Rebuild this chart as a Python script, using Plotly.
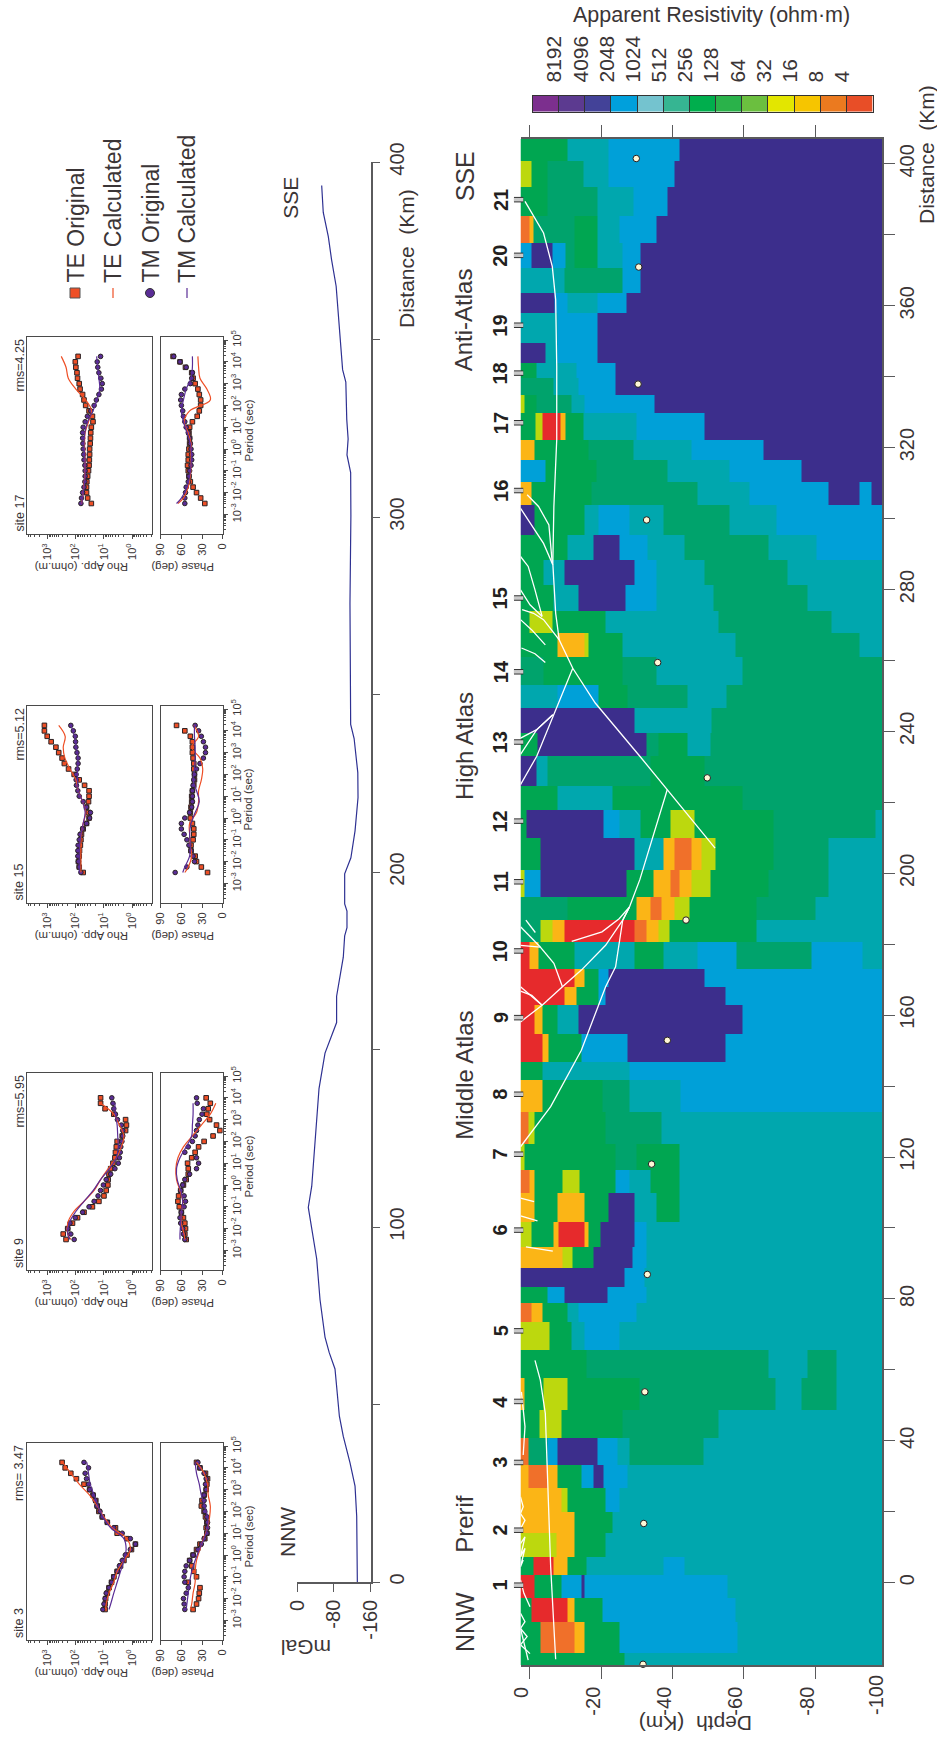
import re
import plotly.graph_objects as go

W, H = 937, 1738
FONT = "Liberation Sans"
INK = "#3b3536"
AXIS = "#5a5a5c"

# ---------- resistivity section ----------
LEVEL_LABELS = ["8192", "4096", "2048", "1024", "512", "256", "128", "64", "32", "16", "8", "4"]
BAR_COLORS = ["#7C2F8E", "#5C3A90", "#434298", "#00A0DC", "#74C3CF", "#36B592", "#00AE4D",
              "#2AB24A", "#6BBF3F", "#E3E600", "#F6C500", "#EB7A1F", "#E84E27"]
SECTION_COLORS = ["#7C2F8E", "#3C2E8C", "#434298", "#00A0D8", "#00A7AE", "#00A36C", "#00A651",
                  "#2AB24A", "#BCD80E", "#E3E600", "#FBB516", "#F0702A", "#E62A2C"]
CLASS_INDEX = {"P": 1, "B": 3, "T": 4, "G": 5, "L": 6, "Y": 8, "O": 10, "R": 11, "X": 12}

COLUMN_EDGES = [407, 400.7, 393.6, 385.2, 377.7, 370.6, 363.6, 357.9, 349.5, 343.8, 339.6, 334.9, 329.8,
                322.2, 316.5, 310.4, 303.8, 295.4, 288.4, 281.3, 273.8, 267.7, 261.1, 253.1, 246.6, 239.5,
                233, 224.5, 217.9, 210, 201, 193.3, 186.8, 180.7, 173.1, 168, 162.8, 154.8, 146.9, 141.7,
                132.8, 123.8, 116.3, 109.8, 101.8, 94.7, 88.6, 83.5, 78.8, 73.5, 65.5, 57.6, 48.6, 40.7,
                33.1, 26.6, 20, 13.9, 7.3, 2.2, -4.4, -11, -19.9, -23.2]
COLUMN_RUNS = [
    "L10.6 T22 B42 P", "Y0.5 L5 G15 T22 B40.4 P", "L5 G19 T29 B38.5 P", "R-0.1 O1 G12.5 L19 T25 B35.6 P",
    "B0.5 P6.25 B10 G12.5 L19 T26 B31 P", "T9.6 G26 B31 P", "P7 B10.6 T19 B27 P", "T7.7 B19 P",
    "P4.3 T7.7 B19 P", "L1.9 T13 B24 P", "G6.7 T13.5 B24 P", "Y-1.4 L1.9 G11.5 T15.4 B35 P",
    "L1.5 Y3.4 X8.6 O10 L15 T29.8 B49 P", "O1.4 L16.3 G29 T45.2 B65.4 P", "B4.3 L18.75 G38.5 T55.8 B76 P",
    "O0.5 L17.3 G47.1 T61.5 B83.6 P92.3 B95.7 P", "P1.4 L15.4 T19.2 B27.9 T37.5 G55.8 T69.2 B",
    "L10.6 T17.8 P25 B33 T43.3 G67 T80.3 B", "L3.8 T9.6 P29.3 B35.6 T49 G72.1 T",
    "L6.7 T13.5 P26.9 B35.6 T51.4 G77.9 T", "L0 Y6.25 L21.2 T52.9 G84.6 T",
    "L7.7 O15.4 Y16.3 L26 T57.7 G92.3 T", "G3.8 L26 G35.6 T59.6 G", "T7.7 B19.2 L27.4 G44.2 T55 G",
    "P29.3 T51 G", "L2 P32.7 G36 L44.2 T50.5 G", "P1.9 T4.8 G33.7 L49 G", "L7.7 T23 L59.6 G",
    "L-1 P20.7 B25 T31 L39.4 Y46.2 L68.3 G97 T", "L2.9 P29.3 T37.5 O40.4 R45.2 O48 Y51.9 L68.3 G83.6 T",
    "Y-1.4 B2.9 P27 L34.6 O39.4 R41.8 O45.2 Y50.5 L66.8 G83.6 T", "G10.6 L29.8 O33.7 R37 O40.4 Y44.7 L63.5 G80 T",
    "G2.9 Y6.25 O9.6 X29.3 R32.7 O36 Y39 L63.5 T", "X0 O2.4 L12.5 T29.3 L37.5 T47.1 B58 G78.8 B93.3 T",
    "X12.5 O15.4 L19.2 B22 P49 B", "X9.6 O13 L19.2 B21.2 P54.8 B", "X1.4 O3.4 L7.7 T13.5 P59.6 B",
    "X3.4 O5.3 L14.4 B27.4 P54.8 B", "L3.4 T27.9 B", "O3.4 L20.2 G27.9 T42.3 B", "R-0.5 Y1.4 L21.2 G37 T",
    "Y-1.4 L24 G29.8 L41.8 T", "R0 O1.2 L9.1 Y14 L24 B27.9 T33.7 L41.8 T", "O1.4 L7.7 O15.4 L22 P29.3 T35.6 L41.8 T",
    "Y0.5 L6.7 O8 X15.4 O16.5 L19.8 P29.3 B32.7 T", "O9.1 Y12 L17.8 P28.8 B32.7 T", "P26.4 B32 T",
    "L4.8 B9.6 P21.6 B32.7 T", "R0.5 O3.4 L10.6 T13.5 B29.8 T", "Y5.6 L11.5 T15.4 B25 T", "L15.9 G66.8 T77.9 G86 T",
    "O-1.4 L3.8 Y10.6 L30.8 G68.8 T76 G86 T", "L2.7 Y8.8 L26 G52.9 T", "R-0.5 G4.8 B7.7 P18.8 B24.5 T27.9 G48.6 T",
    "O-0.5 R4.8 O7.7 L14.4 B17.8 P20.7 B27.4 T", "O8.7 Y10.6 L21.2 B25 T", "O12.5 L23 T", "Y7.3 O12.5 L21.2 T",
    "L1 X6.7 O10.6 L15.9 T37.5 B43.3 T", "X1.4 L8.7 B14.4 P15.4 B55.3 T", "L0.5 X10.6 O12.5 L20.2 B57.7 T",
    "L2.9 R12.5 O15.4 L25 B58.2 T", "L26.4 T",
]
SURFACE, BOTTOM = -2.66, 98.7

FAULT_DEPTH = [
    [-1.4, 3.8, 6.25, 7.2, 7.5, 7.5, 6.7, 6.4, 7.2, 8.2],
    [-0.8, 2.4, 5.3, 6.25], [-2.66, 0, 3.8, 6.4], [-2.66, -0.5, 1.4, 3.4], [-2.66, 0, 3.4],
    [-2.2, 1, 3.8, 8.2, 12, 18.3, 30.8, 38.5, 51.9], [-2.66, 0.5, 4.3], [-2.4, 1.4, 4.3],
    [12, 6.7, 1.9, -2.66], [-2.66, 1.9, 6.4], [-2.66, 1.9, 6.4],
    [38.5, 30.8, 27.9, 26, 24, 21.2, 14.4, 5.8, -2.66],
    [-2.66, 3.4, 9.1, 14.4, 21.2, 26, 27.9], [11.7, 20.2, 25, 27.9], [-2.66, 2.9, 6.7, 9.1],
    [-2.66, 2.9], [-1.15, 1.5], [-2.66, 0, 3.4], [-2.66, 0.5, 3.4], [-2.66, 1.15], [-2.66, 2.1], [-1.15, 6.4],
    [1.4, 2.9, 4.3, 4.8, 5.8, 6.7, 7.2], [-2.4, -1.4, -1.9], [-2.66, -1.7, 0],
    [-2.66, -1.4, -2.66, -0.8, -2.66, 0], [-2.66, -0.5],
    [-2.66, -1.9, -2.66, -1.4, -2.66], [-2.66, -1.4, -2.66, -1.4, -2.66, -1.9],
]
FAULT_DIST = [
    [389.4, 380.5, 371.1, 361.7, 342.9, 322.3, 303.4, 287.4, 273.3, 265.8],
    [306.7, 303.4, 298.2, 287.4], [302.9, 298.7, 293, 287], [289.3, 286.5, 279.9, 272.4], [279.9, 275.7, 272.4],
    [274.3, 273.3, 271.5, 265.8, 257.8, 248, 233, 223.6, 207.1], [271.5, 268.6, 264.4], [263.5, 261.9, 259.4],
    [257.8, 244.7, 233, 225], [238.1, 240.5, 244.7], [233.5, 240.5, 244.7],
    [223.6, 198.2, 190.5, 186.8, 173.6, 168, 150.1, 134.2, 122.9],
    [158.1, 162.8, 168, 172.7, 179.7, 186.8, 190.5], [180.8, 183.5, 187.2, 190.5], [179.7, 179.2, 174.6, 168],
    [184.9, 179.2], [186.8, 183.3], [168, 165.6, 162.8], [166.8, 165.6, 162.8], [108.4, 107.4], [103.4, 102], [94.7, 93.5],
    [62.7, 57.1, 47.7, 33.6, 4.5, -12.4, -21.6], [53.8, 44, 36], [0.8, -3, -6.8],
    [-8.6, -11, -12.9, -15.2, -17.5, -20], [-12.9, -21.8],
    [24.2, 21.4, 19.5, 17.6, 15.2], [11, 12.9, 7.3, 9.7, 4.5, 6.4],
]
DOT_DEPTH = [29.8, 30.5, 30.3, 32.7, 35.8, 49.7, 43.75, 38.5, 34.1, 32.9, 32.2, 31.9, 31.7]
DOT_DIST = [401.5, 370.9, 337.9, 299.6, 259.4, 226.9, 186.8, 152.9, 118, 86.9, 53.8, 16.7, -23]
SITE_NUMBERS = list(range(1, 22))
SITE_DIST = [-0.7, 14.8, 33.9, 51.1, 71, 99.4, 120.8, 137.7, 159.3, 178.1, 197.6, 214.7, 237, 256.8, 277.6,
             307.9, 327, 341, 354.5, 374.2, 389.9]
REGIONS = ["NNW", "Prerif", "Middle Atlas", "High Atlas", "Anti-Atlas", "SSE"]
REGION_DIST = [-11, 16.7, 143, 236, 356, 396.6]

# ---------- gravity profile ----------
GRAV_DIST = [393.4, 385.8, 379, 372.5, 365, 356.5, 346, 341.5, 338, 327.5, 322, 317.5, 312.5, 300.4, 275.7, 251,
             241.6, 237.6, 228, 221, 211.6, 204, 199.5, 191, 189, 184.3, 182, 176, 168, 165, 157.6, 149, 139, 131,
             121, 111.5, 105.5, 100, 91, 79.5, 69, 64.6, 60, 46.7, 41, 33.6, 27, 18.5, 9, 0]
GRAV_MGAL = [-53.6, -57, -68, -75, -85, -90, -95, -99, -106, -108, -111, -108.5, -116.5, -117, -115, -116.5,
             -116.5, -124, -132, -132.5, -126, -117, -103.5, -103.5, -108.5, -108.5, -103.5, -100.5, -89.7, -86, -86,
             -60.8, -47.8, -42.8, -37, -32, -24.5, -32, -42.8, -50, -60.8, -70, -82.5, -92, -100.5, -115, -126,
             -129.6, -130, -131]

# ---------- sounding curves (log10 period, log10 rho, phase) ----------
LOG_T = [4.25, 4, 3.75, 3.5, 3.25, 3, 2.75, 2.5, 2.25, 2, 1.75, 1.5, 1.25, 1, .75, .5, .25, 0, -.25, -.5, -.75, -1,
         -1.25, -1.5, -1.75, -2, -2.25, -2.5]
LOG_T_CALC = [4.25, 3.75, 3.25, 2.75, 2.25, 1.75, 1.25, .75, .25, -.25, -.75, -1.25, -1.75, -2.25, -2.5]

S17_RHO_TE = [1.92, 2.02, 2, 1.96, 1.94, 1.88, 1.85, 1.76, 1.71, 1.65, 1.53, 1.41, 1.39, 1.45, 1.47, 1.48, 1.49, 1.51, 1.51, 1.52, 1.53, 1.55, 1.58, 1.61, 1.62, 1.62, 1.58, 1.45]
S17_RHO_TM = [1.12, 1.24, 1.22, 1.18, 1.11, 1.06, 1.09, 1.18, 1.27, 1.35, 1.47, 1.59, 1.67, 1.74, 1.76, 1.76, 1.75, 1.74, 1.72, 1.71, 1.68, 1.67, 1.67, 1.68, 1.71, 1.76, 1.8, 1.82]
S17_RHO_TE_C = [2.52, 2.35, 2.27, 2, 1.65, 1.44, 1.55, 1.67, 1.69, 1.68, 1.67, 1.68, 1.72, 1.76, 1.8]
S17_RHO_TM_C = [1.26, 1.22, 1.18, 1.15, 1.25, 1.39, 1.58, 1.68, 1.71, 1.69, 1.67, 1.67, 1.71, 1.76, 1.79]
S17_PH_TE = [72, 62, 54, 45, 43, 40, 36, 34, 32, 32, 34, 37, 44, 48, 49, 48, 48, 49, 50, 50, 51, 50, 49, 47, 43, 38, 32, 26]
S17_PH_TM = [71, 62, 53, 44, 45, 47, 55, 60, 61, 60, 58, 57, 55, 53, 50, 48, 47, 46, 45, 45, 46, 48, 49, 50, 53, 54, 55, 55]
S17_PH_TE_C = [36, 35, 33, 23, 18, 48, 56, 50, 46, 46, 46, 47, 50, 57, 65]
S17_PH_TM_C = [44, 44, 46, 53, 57, 60, 57, 52, 47, 45, 46, 48, 52, 60, 67]

S15_RHO_TE = [3.12, 3.12, 3.02, 2.88, 2.71, 2.61, 2.49, 2.41, 2.26, 2.06, 1.88, 1.69, 1.53, 1.53, 1.55, 1.62, 1.55, 1.53, 1.62, 1.74, 1.8, 1.82, 1.84, 1.87, 1.88, 1.91, 1.88, 1.74]
S15_RHO_TM = [2.18, 2.09, 2.02, 2.01, 2, 1.96, 1.92, 1.92, 1.95, 1.99, 1.99, 1.98, 1.93, 1.88, 1.74, 1.62, 1.48, 1.51, 1.62, 1.76, 1.85, 1.88, 1.92, 1.93, 1.93, 1.91, 1.88, 1.82]
S15_RHO_TE_C = [2.61, 2.38, 2.45, 2.39, 2.21, 2, 1.91, 1.76, 1.65, 1.74, 1.81, 1.82, 1.82, 1.82, 1.82]
S15_RHO_TM_C = [2.18, 2.05, 1.98, 1.93, 1.94, 1.94, 1.91, 1.76, 1.67, 1.74, 1.82, 1.87, 1.88, 1.88, 1.88]
S15_PH_TE = [67, 55, 47, 44, 44, 44, 43, 42, 42, 41, 41, 42, 44, 45, 45, 46, 47, 47, 44, 42, 42, 43, 46, 46, 40, 38, 31, 22]
S15_PH_TM = [40, 35, 31, 28, 25, 25, 28, 33, 38, 41, 42, 43, 44, 44, 44, 45, 48, 55, 60, 60, 56, 52, 49, 46, 43, 41, 52, 69]
S15_PH_TE_C = [42, 35, 45, 33, 29, 31, 35, 35, 38, 48, 48, 47, 45, 50, 55]
S15_PH_TM_C = [41, 41, 40, 40, 41, 43, 38, 34, 40, 46, 48, 47, 48, 55, 58]

S9_RHO_TE = [None, 1.12, 1.12, .96, .65, .23, .2, .23, .35, .53, .56, .59, .61, .68, .76, .82, .85, .86, .92, 1, 1.18, 1.41, 1.71, 1.94, 2.12, 2.29, 2.45, 2.35]
S9_RHO_TM = [None, .72, .68, .65, .59, .52, .38, .33, .33, .36, .4, .42, .45, .49, .61, .76, .92, 1.02, 1.12, 1.21, 1.35, 1.53, 1.76, 2.02, 2.21, 2.29, 2.18, 2.06]
S9_RHO_TE_C = [None, 1.12, .65, .45, .29, .38, .56, .85, 1.12, 1.35, 1.71, 2.09, 2.29, 2.29, 2.18]
S9_RHO_TM_C = [None, .61, .59, .53, .51, .49, .56, .8, 1.12, 1.38, 1.71, 2.02, 2.24, 2.29, 2.21]
S9_PH_TE = [None, 24, 18, 21, 23, 19, 9, 4, 14, 27, 35, 40, 45, 51, 50, 50, 53, 57, 61, 64, 65, 63, 60, 57, 55, 54, 55, 53]
S9_PH_TM = [None, 38, 37, 28, 30, 34, 36, 38, 40, 44, 50, 55, 38, 35, 38, 48, 55, 58, 61, 56, 54, 56, 60, 62, 61, 58, 57, 55]
S9_PH_TE_C = [None, 10, 18, 31, 44, 57, 65, 68, 67, 62, 58, 60, 60, 56, 55]
S9_PH_TM_C = [None, 43, 43, 44, 45, 53, 62, 67, 66, 61, 58, 60, 61, 62, 62]

S3_RHO_TE = [2.49, 2.38, 2.18, 1.98, 1.71, 1.51, 1.39, 1.29, 1.24, 1.18, 1.06, .88, .59, .53, .18, -.12, .02, .18, .29, .41, .53, .65, .73, .82, .88, .94, .96, .96]
S3_RHO_TM = [1.71, 1.55, 1.67, 1.62, 1.55, 1.51, 1.38, 1.31, 1.25, 1.14, 1.06, .88, .65, .35, .06, -.12, .06, .24, .35, .45, .53, .65, .73, .82, .92, .96, 1, 1.04]
S3_RHO_TE_C = [2.47, 2.18, 1.88, 1.51, 1.24, 1, .71, .18, .06, .29, .53, .65, .82, .92, .94]
S3_RHO_TM_C = [1.61, 1.55, 1.49, 1.35, 1.21, 1.04, .76, .29, .21, .29, .41, .53, .65, .76, .82]
S3_PH_TE = [38, 33, 25, 22, 23, 24, 27, 30, 31, 27, 25, 23, 24, 23, 26, 33, 38, 43, 48, 45, 42, 38, 50, 33, 34, 35, 38, 43]
S3_PH_TM = [36, 33, 27, 24, 25, 24, 27, 27, 27, 26, 23, 22, 22, 23, 27, 31, 36, 43, 48, 53, 55, 56, 55, 50, 53, 57, 56, 55]
S3_PH_TE_C = [38, 27, 22, 21, 18, 19, 22, 28, 33, 38, 40, 40, 43, 45, 47]
S3_PH_TM_C = [40, 38, 34, 31, 26, 22, 22, 27, 34, 40, 45, 48, 50, 52, 53]

SITE_TITLES = ["site 3", "site 9", "site 15", "site 17"]
RMS_TITLES = ["rms= 3.47", "rms=5.95", "rms=5.12", "rms=4.25"]
PANEL_DATA = [
    (S3_RHO_TE, S3_RHO_TM, S3_RHO_TE_C, S3_RHO_TM_C, S3_PH_TE, S3_PH_TM, S3_PH_TE_C, S3_PH_TM_C),
    (S9_RHO_TE, S9_RHO_TM, S9_RHO_TE_C, S9_RHO_TM_C, S9_PH_TE, S9_PH_TM, S9_PH_TE_C, S9_PH_TM_C),
    (S15_RHO_TE, S15_RHO_TM, S15_RHO_TE_C, S15_RHO_TM_C, S15_PH_TE, S15_PH_TM, S15_PH_TE_C, S15_PH_TM_C),
    (S17_RHO_TE, S17_RHO_TM, S17_RHO_TE_C, S17_RHO_TM_C, S17_PH_TE, S17_PH_TM, S17_PH_TE_C, S17_PH_TM_C),
]
PANEL_TOPS = [1443, 1073, 706, 337]
LEGEND_NAMES = ["TE Original", "TE Calculated", "TM Original", "TM Calculated"]
TE_COLOR, TM_COLOR = "#EE4F26", "#5A2D96"


def fx(px):
    return px / W


def fy(py):
    return 1 - py / H


def dom_x(a, b):
    return [fx(a), fx(b)]


def dom_y(top, bottom):
    return [fy(bottom), fy(top)]


def step_scale(colors):
    n = len(colors)
    out = []
    for i, c in enumerate(colors):
        out += [[i / n, c], [(i + 1) / n, c]]
    return out


def parse(run):
    res = []
    for tok in run.split():
        m = re.match(r"([A-Z])(-?[\d.]+)?$", tok)
        res.append((m.group(1), float(m.group(2)) if m.group(2) else BOTTOM))
    return res


parsed = [parse(r) for r in COLUMN_RUNS]
edges = sorted({SURFACE, BOTTOM} | {e for col in parsed for _, e in col if SURFACE < e < BOTTOM})
z = []
for col in parsed[::-1]:
    row = []
    for i in range(len(edges) - 1):
        mid = (edges[i] + edges[i + 1]) / 2
        for cls, end in col:
            if mid < end:
                row.append(CLASS_INDEX[cls])
                break
        else:
            row.append(CLASS_INDEX[col[-1][0]])
    row.reverse()
    z.append(row)
x_edges = [-e for e in edges[::-1]]
y_edges = COLUMN_EDGES[::-1]

fig = go.Figure()
fig.add_trace(go.Heatmap(x=x_edges, y=y_edges, z=z, zmin=-0.5, zmax=12.5, colorscale=step_scale(SECTION_COLORS),
                         showscale=False, hoverinfo="skip", xaxis="x", yaxis="y"))

fx_line, fy_line = [], []
for ds, ks in zip(FAULT_DEPTH, FAULT_DIST):
    fx_line += [-d for d in ds] + [None]
    fy_line += ks + [None]
fig.add_trace(go.Scatter(x=fx_line, y=fy_line, mode="lines", line=dict(color="white", width=1.3),
                         xaxis="x", yaxis="y", showlegend=False))
fig.add_trace(go.Scatter(x=[-d for d in DOT_DEPTH], y=DOT_DIST, mode="markers", cliponaxis=False,
                         marker=dict(size=6.5, color="#FFF7D6", line=dict(color="#231F20", width=1)),
                         xaxis="x", yaxis="y", showlegend=False))

# site ticks live on an invisible strip that shares the distance scale and extends the depth scale to the left
sx, sy = [], []
for k in SITE_DIST:
    sx += [4.5, 1.9, None]
    sy += [k, k, None]
fig.add_trace(go.Scatter(x=sx, y=sy, mode="lines", line=dict(color="#333", width=5.5),
                         xaxis="x20", yaxis="y20", showlegend=False))
fig.add_trace(go.Scatter(x=sx, y=sy, mode="lines", line=dict(color="#C9C9C9", width=3.5),
                         xaxis="x20", yaxis="y20", showlegend=False))

# colour bar strip
fig.add_trace(go.Heatmap(x=list(range(14)), y=[0, 1], z=[list(range(13))], zmin=-0.5, zmax=12.5,
                         colorscale=step_scale(BAR_COLORS), showscale=False, hoverinfo="skip",
                         xaxis="x2", yaxis="y2"))
# gravity
fig.add_trace(go.Scatter(x=GRAV_MGAL, y=GRAV_DIST, mode="lines", line=dict(color="#2E3192", width=1.2),
                         xaxis="x3", yaxis="y3", showlegend=False))

layout = dict(
    template="none",
    width=W, height=H, margin=dict(l=0, r=0, t=0, b=0, pad=0), paper_bgcolor="white", plot_bgcolor="rgba(0,0,0,0)",
    showlegend=False, font=dict(family=FONT, color=INK, size=20),
    xaxis=dict(domain=dom_x(520.5, 882), range=[2.66, -98.7], tickvals=[0, -20, -40, -60, -80],
               ticktext=["0", "-20", "-40", "-60", "-80"], tickangle=-90, ticks="outside", ticklen=12,
               tickcolor=AXIS, tickwidth=1, showline=True, linecolor=AXIS, linewidth=1.5, mirror="ticks",
               showgrid=False, zeroline=False, ticklabelshift=8, tickfont=dict(size=20), anchor="y"),
    yaxis=dict(domain=dom_y(139, 1665), range=[-23.2, 407], side="right", anchor="x",
               tickvals=list(range(0, 401, 20)),
               ticktext=[str(v) if v % 40 == 0 else " " for v in range(0, 401, 20)], tickangle=-90, ticks="outside",
               ticklen=11, tickcolor=AXIS, tickwidth=1, showline=True, linecolor=AXIS, linewidth=1.5, showgrid=False,
               zeroline=False, tickfont=dict(size=20), ticklabelstandoff=-5),
    xaxis2=dict(domain=dom_x(532.5, 872.6), range=[0, 13], side="top", anchor="y2", tickvals=list(range(1, 13)),
                ticktext=LEVEL_LABELS, tickangle=-90, ticks="inside", ticklen=16, tickcolor="#333", showline=True,
                linecolor="#333", mirror=True, showgrid=False, zeroline=False, tickfont=dict(size=21),
                ticklabelshift=-4, ticklabelstandoff=8),
    yaxis2=dict(domain=dom_y(95.7, 111.7), range=[0, 1], anchor="x2", showticklabels=False, ticks="", showline=True,
                linecolor="#333", mirror=True, showgrid=False, zeroline=False),
    xaxis3=dict(domain=dom_x(297, 370.7), range=[0, -160], anchor="y3", tickvals=[0, -80, -160],
                ticktext=["0", "-80", "-160"], tickangle=-90, ticks="outside", ticklen=8, tickcolor=AXIS,
                showline=True, linecolor=AXIS, linewidth=1.5, showgrid=False, zeroline=False, tickfont=dict(size=20)),
    yaxis3=dict(domain=dom_y(162, 1582), range=[0, 400], side="right", anchor="x3", tickvals=list(range(0, 401, 50)),
                ticktext=[str(v) if v % 100 == 0 else " " for v in range(0, 401, 50)], tickangle=-90,
                ticks="outside", ticklen=8, tickcolor=AXIS, showline=True, linecolor=AXIS, linewidth=1.5,
                showgrid=False, zeroline=False, tickfont=dict(size=20)),
    xaxis20=dict(domain=dom_x(430, 530), range=[28.05, 0], anchor="y20", visible=False),
    yaxis20=dict(domain=dom_y(139, 1665), range=[-23.2, 407], anchor="x20", visible=False),
)

annotations = []


def note(text, px, py, size=20, angle=-90, xa="center", ya="middle"):
    annotations.append(dict(text=text, x=fx(px), y=fy(py), xref="paper", yref="paper",
                            showarrow=False, textangle=angle, xanchor=xa, yanchor=ya,
                            font=dict(size=size, family=FONT, color=INK)))


for n, k in zip(SITE_NUMBERS, SITE_DIST):
    annotations.append(dict(text=f"<b>{n}</b>", x=8.3, y=k, xref="x20", yref="y20", showarrow=False, textangle=-90,
                            font=dict(size=20, family=FONT, color="#231F20")))
for name, k in zip(REGIONS, REGION_DIST):
    size = 25 if name in ("NNW", "SSE") else 24
    annotations.append(dict(text=name, x=18.4, y=k, xref="x20", yref="y20", showarrow=False, textangle=-90,
                            font=dict(size=size, family=FONT, color=INK)))
note("Apparent Resistivity (ohm·m)", 711.6, 14.7, size=21.5, angle=0)
note("Depth  (Km)", 696, 1724, size=21, angle=180)
note("-100", 876, 1673, ya="top")
note("Distance  (Km)", 926, 155, size=21)
note("Distance  (Km)", 407, 259, size=21)
note("mGal", 306, 1648, size=21, angle=180)
note("SSE", 290.7, 198, size=21)
note("NNW", 287, 1532, size=21)

shapes = []
RHO_L, RHO_R, PH_L, PH_R = 26.7, 151.7, 160.7, 222.7
PANEL_H = 197
trace_axis = 4


def pw(vals):
    return [None if v is None else 10 ** v for v in vals]


for i, top in enumerate(PANEL_TOPS):
    bot = top + PANEL_H
    rho = PANEL_DATA[i]
    ax_r, ax_p = trace_axis, trace_axis + 1
    trace_axis += 2
    common_line = dict(showline=True, linecolor="#4a4a4a", linewidth=1, mirror=True, showgrid=False, zeroline=False)
    layout[f"xaxis{ax_r}"] = dict(domain=dom_x(RHO_L, RHO_R), type="log", range=[3.75, -0.7], anchor=f"y{ax_r}",
                                  tickvals=[1000, 100, 10, 1],
                                  ticktext=["10<sup>3</sup>", "10<sup>2</sup>", "10<sup>1</sup>", "10<sup>0</sup>"],
                                  tickangle=-90, ticks="outside", ticklen=4, tickcolor="#4a4a4a", tickfont=dict(size=11),
                                  minor=dict(ticks="outside", ticklen=2, tickcolor="#4a4a4a", dtick="D1"), **common_line)
    layout[f"yaxis{ax_r}"] = dict(domain=dom_y(top, bot), type="log", range=[-3.9, 5.14], anchor=f"x{ax_r}",
                                  showticklabels=False, ticks="", **common_line)
    layout[f"xaxis{ax_p}"] = dict(domain=dom_x(PH_L, PH_R), range=[90, 0], anchor=f"y{ax_p}", tickvals=[0, 30, 60, 90],
                                  tickangle=-90, ticks="outside", ticklen=4, tickcolor="#4a4a4a", tickfont=dict(size=11),
                                  **common_line)
    layout[f"yaxis{ax_p}"] = dict(domain=dom_y(top, bot), type="log", range=[-3.9, 5.14], anchor=f"x{ax_p}", side="right",
                                  tickvals=[10.0 ** e for e in range(-3, 6)],
                                  ticktext=[f"10<sup>{e}</sup>" for e in range(-3, 6)], tickangle=-90, ticks="outside",
                                  ticklen=4, tickcolor="#4a4a4a", tickfont=dict(size=11),
                                  minor=dict(ticks="outside", ticklen=2, tickcolor="#4a4a4a", dtick="D1"), **common_line)

    T = pw(LOG_T)
    TC = pw(LOG_T_CALC)
    for vals, sym, col, size in ((rho[0], "square", TE_COLOR, 4.6), (rho[1], "circle", TM_COLOR, 4.6)):
        fig.add_trace(go.Scatter(x=pw(vals), y=T, mode="markers", xaxis=f"x{ax_r}", yaxis=f"y{ax_r}",
                                 marker=dict(symbol=sym, size=size, color=col, line=dict(color="#2b2225", width=1)),
                                 showlegend=False))
    for vals, col in ((rho[2], TE_COLOR), (rho[3], TM_COLOR)):
        fig.add_trace(go.Scatter(x=pw(vals), y=TC, mode="lines", xaxis=f"x{ax_r}", yaxis=f"y{ax_r}",
                                 line=dict(color=col, width=1.2, shape="spline"), showlegend=False))
    for vals, sym, col, size in ((rho[4], "square", TE_COLOR, 4.6), (rho[5], "circle", TM_COLOR, 4.6)):
        fig.add_trace(go.Scatter(x=vals, y=T, mode="markers", xaxis=f"x{ax_p}", yaxis=f"y{ax_p}",
                                 marker=dict(symbol=sym, size=size, color=col, line=dict(color="#2b2225", width=1)),
                                 showlegend=False))
    for vals, col in ((rho[6], TE_COLOR), (rho[7], TM_COLOR)):
        fig.add_trace(go.Scatter(x=vals, y=TC, mode="lines", xaxis=f"x{ax_p}", yaxis=f"y{ax_p}",
                                 line=dict(color=col, width=1.2, shape="spline"), showlegend=False))

    note(RMS_TITLES[i], 19, top, size=12.5, ya="top")
    note(SITE_TITLES[i], 19, bot, size=12.5, ya="bottom")
    note("Rho App. (ohm.m)", 82, bot + 33, size=11.5, angle=180)
    note("Phase (deg)", 183, bot + 33, size=11.5, angle=180)
    note("Period (sec)", 248, (top + bot) / 2 - 5, size=11.5)

LEG_X = [75, 113, 150, 187]
for name, px in zip(LEGEND_NAMES, LEG_X):
    note(name, px, 285, size=23, ya="bottom")
shapes.append(dict(type="rect", xref="paper", yref="paper", x0=fx(70), x1=fx(80), y0=fy(298), y1=fy(288),
                   fillcolor=TE_COLOR, line=dict(color="#555", width=1)))
shapes.append(dict(type="line", xref="paper", yref="paper", x0=fx(113), x1=fx(113), y0=fy(298), y1=fy(288),
                   line=dict(color=TE_COLOR, width=1.2)))
shapes.append(dict(type="circle", xref="paper", yref="paper", x0=fx(145.5), x1=fx(154.5), y0=fy(297.5), y1=fy(288.5),
                   fillcolor=TM_COLOR, line=dict(color="#333", width=1)))
shapes.append(dict(type="line", xref="paper", yref="paper", x0=fx(187), x1=fx(187), y0=fy(298), y1=fy(288),
                   line=dict(color=TM_COLOR, width=1.2)))

layout["annotations"] = annotations
layout["shapes"] = shapes
fig.update_layout(**layout)
fig.write_html("out.html", post_script="document.body.style.margin='0';", config={"displayModeBar": False})
